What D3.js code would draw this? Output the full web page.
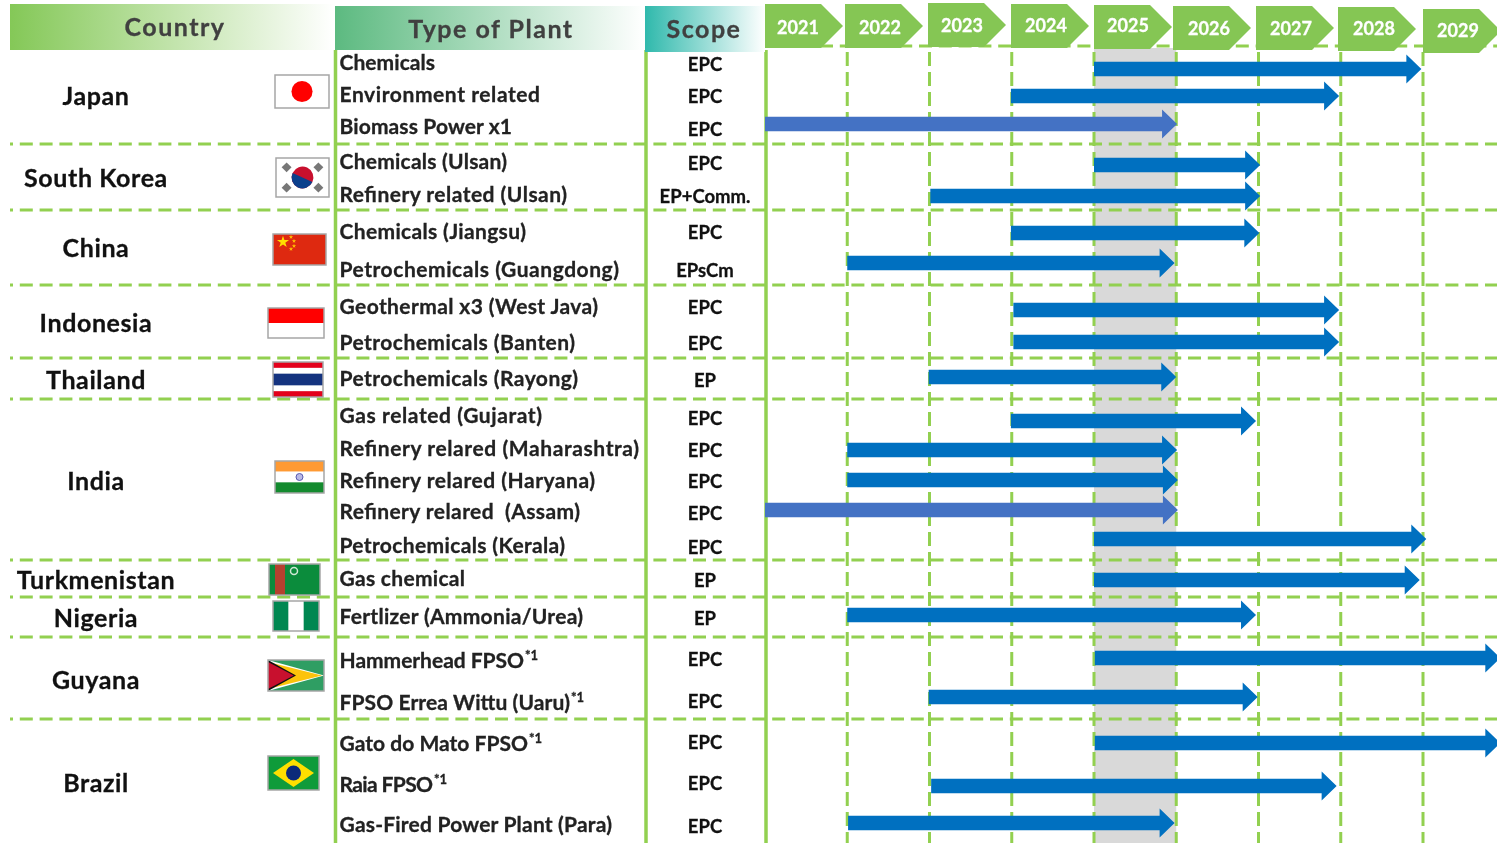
<!DOCTYPE html>
<html><head><meta charset="utf-8">
<script src="https://cdnjs.cloudflare.com/ajax/libs/d3/7.9.0/d3.min.js"></script>
<style>html,body{margin:0;padding:0;background:#fff;overflow:hidden}svg{display:block}text{font-family:Lato,"Open Sans",sans-serif;filter:blur(.25px);stroke:currentColor;stroke-width:.3px}</style>
</head><body><svg id="c" width="1497" height="843"></svg>
<script>
const years=[2021,2022,2023,2024,2025,2026,2027,2028,2029];
const currentYear=2025;
const countries=["Japan","South Korea","China","Indonesia","Thailand","India","Turkmenistan","Nigeria","Guyana","Brazil"];
const plants=["Chemicals","Environment related","Biomass Power x1","Chemicals (Ulsan)","Refinery related (Ulsan)","Chemicals (Jiangsu)","Petrochemicals (Guangdong)","Geothermal x3 (West Java)","Petrochemicals (Banten)","Petrochemicals (Rayong)","Gas related (Gujarat)","Refinery relared (Maharashtra)","Refinery relared (Haryana)","Refinery relared  (Assam)","Petrochemicals (Kerala)","Gas chemical","Fertlizer (Ammonia/Urea)","Hammerhead FPSO","FPSO Errea Wittu (Uaru)","Gato do Mato FPSO","Raia FPSO","Gas-Fired Power Plant (Para)"];
const scopes=["EPC","EPC","EPC","EPC","EP+Comm.","EPC","EPsCm","EPC","EPC","EP","EPC","EPC","EPC","EPC","EPC","EP","EP","EPC","EPC","EPC","EPC","EPC"];
const startYears=[2025,2023.99,2021,2025,2023.01,2023.99,2022,2024.02,2024.02,2022.99,2023.99,2022,2022,2021,2025,2025,2022,2025.01,2022.99,2025.01,2023.02,2022.01];
const endYears=[2028.98,2027.98,2026.01,2027.02,2027.02,2027.01,2025.98,2027.98,2027.98,2026,2026.97,2026.01,2026.02,2026.02,2029.04,2028.96,2026.97,2029.94,2026.99,2029.94,2027.95,2025.98];
const lighter=["Biomass Power x1","Refinery relared  (Assam)"];
const footnoted=["Hammerhead FPSO","FPSO Errea Wittu (Uaru)","Gato do Mato FPSO","Raia FPSO"];

// layout
const plantY=[63,95,127,162,195,232,270,307,343,379,416,449,481,512,546,579,617,661,703,744,785,825];
const plantRight=[435,540,512,507,567,526,619,598,575,578,542,639,595,580,565,465,583,524,570,528,433,612];
const scopeY=[64,96,129,163,196,232,270,307,343,380,418,450,481,513,547,580,618,659,701,742,783,826];
const arrowY=[69,96,124,165,196,233,263,310,342,377,421,450,480,510,539,580,615,658,697,743,786,823];
const countryY=[96,178,248,323,380,481,580,618,680,783];
const separators=[144,210,285,358,399,560,597,637,719];
const chevronX=[765,845,928,1011,1094,1173,1256,1338,1423];
const chevronTop=[4,4,3,4,5,6,6,7,9];
const yearTextX=[798,880,962,1046,1128,1209,1291,1374,1458];
const yearTextY=[27,27,25,25,25,28,28,28,30];
const flagBox={"Japan":[275,75,54,33],"South Korea":[276,158,53,39],"China":[273,234,53,31],"Indonesia":[268,308,56,30],"Thailand":[273,362,50,35],"India":[275,461,49,32],"Turkmenistan":[269,564,51,31],"Nigeria":[273,601,46,30],"Guyana":[268,660,56,31],"Brazil":[268,756,51,34]};

const GREEN="#92d050",svg=d3.select("#c");
const x=d3.scaleLinear().domain([2021,2029]).range([765,1423]);
const yText=d3.scaleOrdinal(plants,plantY), xRight=d3.scaleOrdinal(plants,plantRight), yScope=d3.scaleOrdinal(plants,scopeY), yArrow=d3.scaleOrdinal(plants,arrowY), yCountry=d3.scaleOrdinal(countries,countryY);
const rows=plants.map((p,i)=>({plant:p,scope:scopes[i],start:startYears[i],end:endYears[i]}));

// gradients
const defs=svg.append("defs");
[["gC","#84c857"],["gT","#5cba80"],["gS","#2fb9ac"]].forEach(([id,c])=>{
  const g=defs.append("linearGradient").attr("id",id);
  g.append("stop").attr("offset",0).attr("stop-color",c);
  g.append("stop").attr("offset",1).attr("stop-color","#fff");
});

// current year band
svg.append("rect").attr("x",x(currentYear)).attr("width",x(currentYear+1)-x(currentYear)).attr("y",48).attr("height",795).attr("fill","#d9d9d9");

// year grid
svg.append("g").selectAll("line").data(years.slice(1)).join("line")
  .attr("x1",d=>x(d)).attr("x2",d=>x(d)).attr("y1",52).attr("y2",843)
  .attr("stroke",GREEN).attr("stroke-width",3).attr("stroke-dasharray","14 6");
// horizontal separators
svg.append("g").selectAll("line").data(separators).join("line")
  .attr("x1",10).attr("x2",1497).attr("y1",d=>d).attr("y2",d=>d)
  .attr("stroke",GREEN).attr("stroke-width",3).attr("stroke-dasharray","13 6.8").attr("stroke-dashoffset",10);
svg.append("line").attr("x1",820).attr("x2",1497).attr("y1",46).attr("y2",46).attr("stroke",GREEN).attr("stroke-width",3).attr("stroke-dasharray","13 6.8");
// solid columns
svg.append("g").selectAll("line").data([335.5,646,766]).join("line")
  .attr("x1",d=>d).attr("x2",d=>d).attr("y1",50).attr("y2",843)
  .attr("stroke",GREEN).attr("stroke-width",3.5);

// headers
const hdr=[{t:"Country",x:10,y:4,w:324,h:46,g:"gC",tx:175,ty:36},{t:"Type of Plant",x:335,y:6,w:310,h:44,g:"gT",tx:491,ty:38},{t:"Scope",x:645,y:6,w:120,h:46,g:"gS",tx:704,ty:38}];
svg.append("g").selectAll("rect").data(hdr).join("rect").attr("x",d=>d.x).attr("y",d=>d.y).attr("width",d=>d.w).attr("height",d=>d.h).attr("fill",d=>`url(#${d.g})`);
svg.append("g").selectAll("text").data(hdr).join("text").attr("x",d=>d.tx).attr("y",d=>d.ty).attr("text-anchor","middle").attr("font-size",25).attr("font-weight",700).attr("letter-spacing",1.5).attr("fill","#404040").style("color","#404040").text(d=>d.t);

// chevrons
const chev=svg.append("g").selectAll("g").data(years).join("g");
chev.append("path").attr("fill","#85c654").attr("d",(d,i)=>{const a=chevronX[i],t=chevronTop[i],w=78,h=44;return `M${a},${t}H${a+w-22}L${a+w},${t+h/2}L${a+w-22},${t+h}H${a}Z`;});
chev.append("text").attr("x",(d,i)=>yearTextX[i]).attr("y",(d,i)=>yearTextY[i]+6.5).attr("text-anchor","middle").attr("font-size",18).attr("font-weight",700).attr("fill","#fff").style("color","#fff").text(d=>d);

// arrows
const shaft=7.2,head=14.5,headLen=15;
svg.append("g").selectAll("path").data(rows).join("path")
  .attr("fill",d=>lighter.includes(d.plant)?"#4472c4":"#0070c0")
  .attr("d",d=>{const a=x(d.start),b=x(d.end),y=yArrow(d.plant);return `M${a},${y-shaft}H${b-headLen}V${y-head}L${b},${y}L${b-headLen},${y+head}V${y+shaft}H${a}Z`;});

// plant labels
svg.append("g").selectAll("text").data(rows).join("text")
  .attr("x",339.5).attr("y",d=>yText(d.plant)+7).attr("font-size",21).attr("font-weight",700).attr("fill","#222").style("color","#222").style("white-space","pre")
  .attr("textLength",d=>xRight(d.plant)-339.5).attr("lengthAdjust","spacing").text(d=>d.plant);
svg.append("g").selectAll("text").data(rows.filter(d=>footnoted.includes(d.plant))).join("text")
  .attr("x",d=>xRight(d.plant)+1).attr("y",d=>yText(d.plant)-1).attr("font-size",13).attr("font-weight",700).attr("fill","#222").style("color","#222").text("*1");
// scope labels
svg.append("g").selectAll("text").data(rows).join("text")
  .attr("x",705).attr("y",d=>yScope(d.plant)+6.5).attr("text-anchor","middle").attr("font-size",18.5).attr("font-weight",700).attr("fill","#111").style("color","#111").text(d=>d.scope);
// countries
svg.append("g").selectAll("text").data(countries).join("text")
  .attr("x",96).attr("y",d=>yCountry(d)+9).attr("text-anchor","middle").attr("font-size",25).attr("font-weight",700).attr("letter-spacing",.6).attr("fill","#111").style("color","#111").text(d=>d);

// flags
const flags={
 "Japan":(g,w,h)=>{r(g,0,0,w,h,"#fff");g.append("circle").attr("cx",w*.5).attr("cy",h*.5).attr("r",h*.32).attr("fill","#f00");},
 "South Korea":(g,w,h)=>{r(g,0,0,w,h,"#fff");
   const R=h*.28,G=g.append("g").attr("transform",`translate(${w/2},${h/2}) rotate(25)`);
   G.append("circle").attr("r",R).attr("fill","#c8102e");
   G.append("path").attr("d",`M${-R},0A${R},${R} 0 0 0 ${R},0Z`).attr("fill","#0b3f8c");
   [[.2,.24],[.8,.24],[.2,.76],[.8,.76]].forEach(p=>r(g,w*p[0]-3.5,h*p[1]-3.5,7,7,"#777").attr("transform",`rotate(45 ${w*p[0]} ${h*p[1]})`));},
 "China":(g,w,h)=>{r(g,0,0,w,h,"#de2910");
   g.append("path").attr("d",d3.symbol(d3.symbolStar,45)()).attr("transform","translate(10,8)").attr("fill","#ffde00");
   [[18,3],[21,7],[21,12],[18,15]].forEach(p=>g.append("path").attr("d",d3.symbol(d3.symbolStar,6)()).attr("transform",`translate(${p})`).attr("fill","#ffc000"));},
 "Indonesia":(g,w,h)=>{r(g,0,0,w,h/2,"#f00");r(g,0,h/2,w,h/2,"#fff");},
 "Thailand":(g,w,h)=>{r(g,0,0,w,h,"#e3001b");r(g,0,h/6,w,h*4/6,"#fff");r(g,0,h/3,w,h/3,"#14337f");},
 "India":(g,w,h)=>{r(g,0,0,w,h/3,"#ff9a33");r(g,0,h/3,w,h/3,"#fff");r(g,0,h*2/3,w,h/3,"#138a2e");g.append("circle").attr("cx",w/2).attr("cy",h/2).attr("r",3.5).attr("fill","#b9b9e6").attr("stroke","#5a5ab0");},
 "Turkmenistan":(g,w,h)=>{r(g,0,0,w,h,"#0b8c3c");r(g,6,0,10,h,"#b5412f");g.append("circle").attr("cx",25).attr("cy",7).attr("r",3.5).attr("fill","none").attr("stroke","#cfe8d5").attr("stroke-width",1.5);},
 "Nigeria":(g,w,h)=>{r(g,0,0,w,h,"#008751");r(g,w/3,0,w/3,h,"#fff");},
 "Guyana":(g,w,h)=>{r(g,0,0,w,h,"#2f9e63");
   g.append("path").attr("d",`M0,0L${w},${h/2}L0,${h}Z`).attr("fill","#fff");
   g.append("path").attr("d",`M0,2L${w-2},${h/2}L0,${h-2}Z`).attr("fill","#fcc30b");
   g.append("path").attr("d",`M0,0L${w*.5},${h/2}L0,${h}Z`).attr("fill","#111");
   g.append("path").attr("d",`M0,2L${w*.46},${h/2}L0,${h-2}Z`).attr("fill","#c8102e");},
 "Brazil":(g,w,h)=>{r(g,0,0,w,h,"#0f9b3a");
   g.append("path").attr("d",`M${w/2},3L${w-5},${h/2}L${w/2},${h-3}L5,${h/2}Z`).attr("fill","#fedf00");
   g.append("circle").attr("cx",w/2).attr("cy",h/2).attr("r",h*.22).attr("fill","#0b2a7a");}
};
function r(g,a,b,w,h,f){return g.append("rect").attr("x",a).attr("y",b).attr("width",w).attr("height",h).attr("fill",f);}
countries.forEach(c=>{const [a,b,w,h]=flagBox[c];
  const g=svg.append("g").attr("transform",`translate(${a},${b})`);
  flags[c](g,w,h);
  g.append("rect").attr("width",w).attr("height",h).attr("fill","none").attr("stroke","#a6a6a6").attr("stroke-width",1.5);
});
</script></body></html>
